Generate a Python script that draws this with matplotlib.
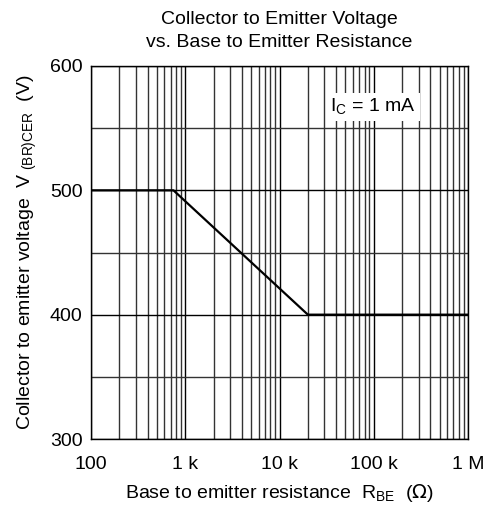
import matplotlib.pyplot as plt
import numpy as np

plt.rcParams['font.family'] = ['Liberation Sans', 'DejaVu Sans']

# curve data
r_be = [100, 750, 20000, 1e6]
v_cer = [500, 500, 400, 400]

x_ticks = [100, 1e3, 1e4, 1e5, 1e6]
x_labels = ["100", "1 k", "10 k", "100 k", "1 M"]
y_ticks = [300, 400, 500, 600]
y_minor = [350, 450, 550]

fig = plt.figure(figsize=(4.96, 5.14), dpi=100)
ax = fig.add_axes([91 / 496, 75 / 514, 377 / 496, 373 / 514])

ax.plot(r_be, v_cer, color='black', linewidth=1.6, zorder=3)

ax.set_xscale('log')
ax.set_xlim(100, 1e6)
ax.set_ylim(300, 600)
ax.set_xticks(x_ticks)
ax.set_xticklabels(x_labels)
ax.set_yticks(y_ticks)
ax.set_yticks(y_minor, minor=True)
ax.xaxis.set_minor_locator(plt.matplotlib.ticker.LogLocator(base=10, subs=np.arange(2, 10)))
ax.xaxis.set_minor_formatter(plt.NullFormatter())
ax.tick_params(which='both', length=0, labelsize=14)
ax.tick_params(axis='x', pad=12)
ax.tick_params(axis='y', pad=6)
for lbl in ax.get_yticklabels():
    lbl.set_va('center_baseline')

ax.grid(True, which='major', color='black', linewidth=1.0)
ax.grid(True, which='minor', color='#333333', linewidth=1.0)
for s in ax.spines.values():
    s.set_linewidth(1.0)

ax.set_title("Collector to Emitter Voltage\nvs. Base to Emitter Resistance", fontsize=14, pad=14, linespacing=1.45)
ax.set_xlabel(r"Base to emitter resistance  R$_{\mathregular{BE}}$  ($\Omega$)", fontsize=14, labelpad=7)
ax.set_ylabel(r"Collector to emitter voltage  V$_{\mathregular{\ (BR)CER}}$  (V)", fontsize=14, labelpad=8)

ax.text(0.748, 0.89, r"I$_{\mathregular{C}}$ = 1 mA", fontsize=14, ha='center', va='center',
        transform=ax.transAxes,
        bbox=dict(facecolor='white', edgecolor='none', pad=3), zorder=4)

fig.savefig("out.png", dpi=100)
